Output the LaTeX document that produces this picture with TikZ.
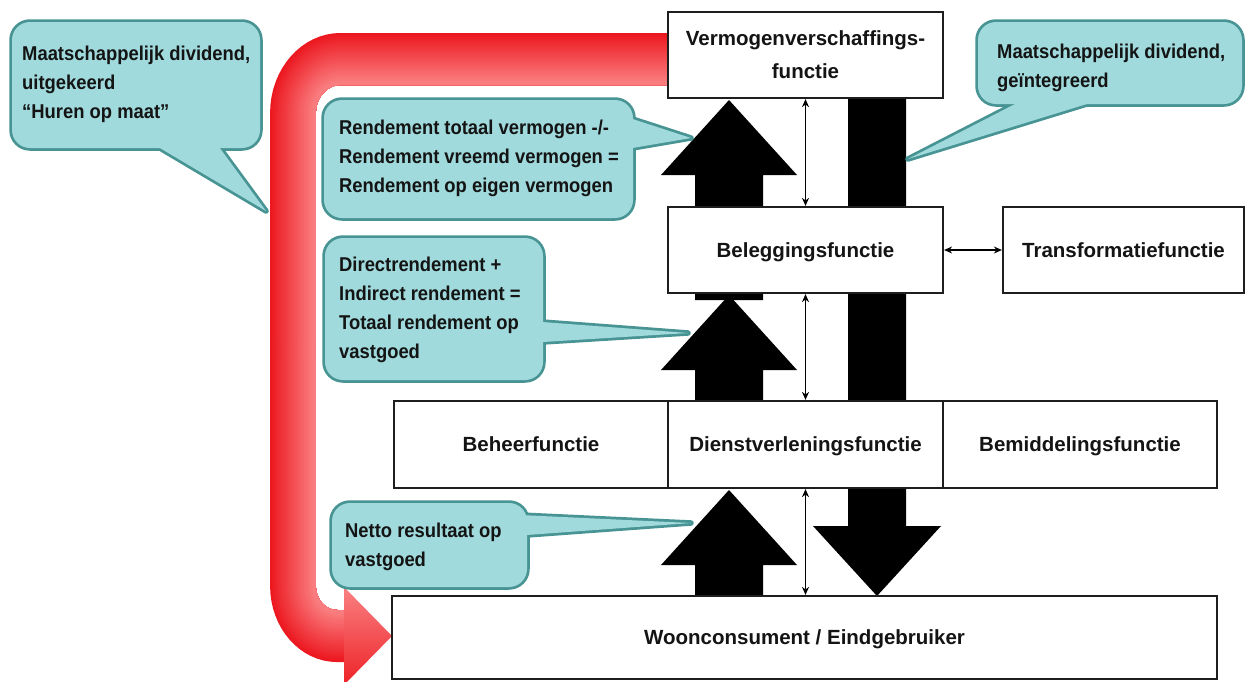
\documentclass[tikz,border=0pt]{standalone}
\usepackage{fontspec}
\setmainfont{Liberation Sans}
\newfontfamily\boxfont{Liberation Sans}
\newfontfamily\callfont{Liberation Sans}[FakeStretch=0.92]
\usetikzlibrary{arrows.meta}
\definecolor{callfill}{RGB}{160,218,220}
\definecolor{callline}{RGB}{72,148,148}
\definecolor{boxline}{RGB}{30,30,30}
\definecolor{txt}{RGB}{20,20,20}
\definecolor{rbout}{RGB}{236,24,32}
\definecolor{rbin}{RGB}{250,128,130}
\definecolor{headtop}{RGB}{249,128,130}
\definecolor{headbot}{RGB}{238,35,40}
\newcommand\callshape[5]{%
  \draw[callline, line width=5.5pt, fill=callfill, rounded corners=18pt] #1 rectangle #2;
  \draw[callline, line width=5.5pt, fill=callfill, line join=round] #3 -- #4 -- #5 -- cycle;
  \fill[callfill, rounded corners=18pt] #1 rectangle #2;
  \fill[callfill] #3 -- #4 -- #5 -- cycle;
}
\begin{document}
\begin{tikzpicture}[x=1pt,y=-1pt,
  box/.style={draw=boxline, line width=2.2pt, fill=white, inner sep=0pt, align=center,
    text=txt, font=\boxfont\bfseries\fontsize{20.5}{33}\selectfont},
  oneline/.style={text height=14.7pt, text depth=0pt},
  calltxt/.style={anchor=north west, inner sep=0pt, align=left, text=txt,
    font=\callfont\bfseries\fontsize{20}{29}\selectfont},
  dblarrow/.style={draw=black, line width=1.2pt,
    {Stealth[length=8pt,width=7pt]}-{Stealth[length=8pt,width=7pt]}},
  blkarrow/.style={fill=black}]
\fill[white] (0,0) rectangle (1248,681);
\useasboundingbox (0,0) rectangle (1248,681);

% red band (shaded in thin layers, outer red to inner pink)
\begin{scope}[transform canvas={xscale=0.88}]
  \foreach \i in {0,...,24}{
    \pgfmathsetmacro\w{52-2*\i}
    \pgfmathsetmacro\d{\i}
    \pgfmathsetmacro\ra{54-\d}
    \pgfmathsetmacro\rb{50-\d}
    \pgfmathtruncatemacro\p{\i*4}
    \colorlet{bandcol}{rbin!\p!rbout}
    \draw[line width=\w pt, bandcol, rounded corners=\ra pt]
      (795.5,{59+\d}) -- ({332.95+\d},{59+\d}) -- ({332.95+\d},360);
    \draw[line width=\w pt, bandcol, rounded corners=\rb pt]
      ({332.95+\d},340) -- ({332.95+\d},{636-\d}) -- (397.7,{636-\d});
  }
\end{scope}
\shade[top color=headtop, bottom color=headbot] (344,587) -- (392,636) -- (344,685) -- cycle;

% black arrows
\fill[blkarrow] (695,300) -- (695,175) -- (661,175) -- (729,100) -- (797,175) -- (763,175) -- (763,300) -- cycle;
\fill[blkarrow] (695,405) -- (695,370) -- (661,370) -- (729,295) -- (797,370) -- (763,370) -- (763,405) -- cycle;
\fill[blkarrow] (695,600) -- (695,565) -- (661,565) -- (729,490) -- (797,565) -- (763,565) -- (763,600) -- cycle;
\fill[blkarrow] (848,95) -- (848,526) -- (813,526) -- (877,596) -- (941,526) -- (906,526) -- (906,95) -- cycle;

% boxes
\node[box, minimum width=275pt, minimum height=86pt] (verm) at (805.5,55) {Vermogenverschaffings-\\functie};
\node[box, oneline, minimum width=275pt, minimum height=86pt] (beleg) at (805.5,250) {Beleggingsfunctie};
\node[box, oneline, minimum width=241pt, minimum height=86pt] (trans) at (1123.5,250) {Transformatiefunctie};
\node[box, oneline, minimum width=274pt, minimum height=87pt] (beheer) at (531,444.5) {Beheerfunctie};
\node[box, oneline, minimum width=275pt, minimum height=87pt] (dienst) at (805.5,444.5) {Dienstverleningsfunctie};
\node[box, oneline, minimum width=274pt, minimum height=87pt] (bemid) at (1080,444.5) {Bemiddelingsfunctie};
\node[box, oneline, minimum width=825pt, minimum height=83pt] (woon) at (804.5,637.5) {Woonconsument / Eindgebruiker};

% thin double arrows
\draw[dblarrow] (verm.south) -- (beleg.north);
\draw[dblarrow] (beleg.south) -- (dienst.north);
\draw[dblarrow] (dienst.south) -- (dienst.south |- woon.north);
\draw[dblarrow] (beleg.east) -- (trans.west);

% callouts
\callshape{(12,22)}{(260,148)}{(143,138)}{(266,211)}{(212.5,138)}
\node[calltxt] (c1) at (22,46) {Maatschappelijk dividend,\\uitgekeerd\\“Huren op maat”};

\callshape{(324,100)}{(633,218)}{(615,113.3)}{(691,138)}{(615,151)}
\node[calltxt] (c2) at (339,120) {Rendement totaal vermogen -/-\\Rendement vreemd vermogen =\\Rendement op eigen vermogen};

\callshape{(325,238)}{(543,380)}{(525,320.7)}{(688,333)}{(525,343.1)}
\node[calltxt] (c3) at (339,257) {Directrendement +\\Indirect rendement =\\Totaal rendement op\\vastgoed};

\callshape{(332,503)}{(527,587)}{(505,514.3)}{(691,523)}{(505,536.6)}
\node[calltxt] (c4) at (345,523) {Netto resultaat op\\vastgoed};

\callshape{(978,22)}{(1242,104)}{(1034.5,94)}{(908,159)}{(1119.4,94)}
\node[calltxt] (c5) at (997,44) {Maatschappelijk dividend,\\geïntegreerd};
\end{tikzpicture}
\end{document}
